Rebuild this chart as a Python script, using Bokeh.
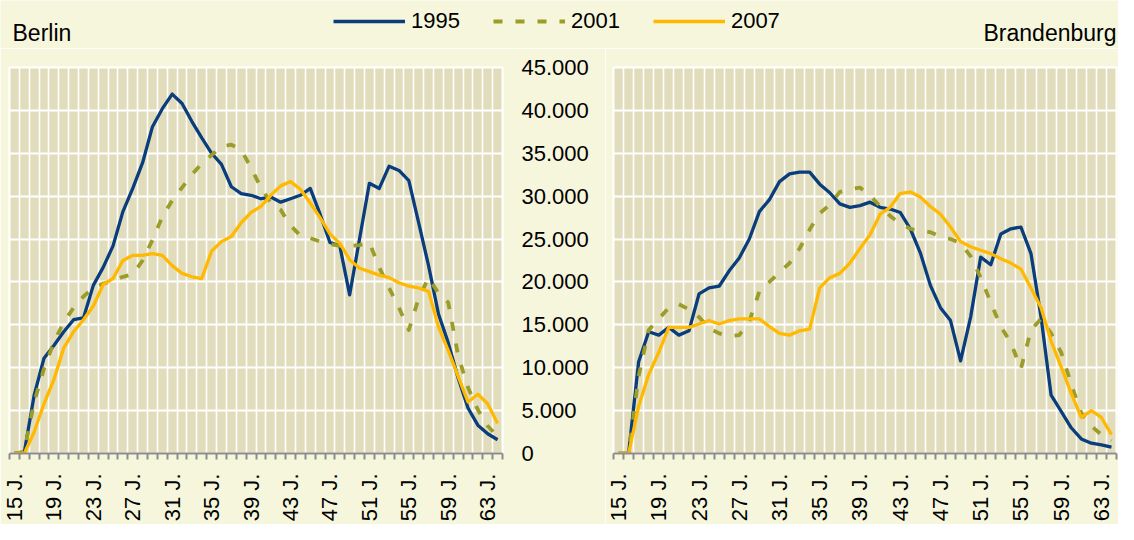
import math
from bokeh.plotting import figure
from bokeh.layouts import column, row
from bokeh.models import FixedTicker, Legend, LegendItem, Label, Range1d
from bokeh.embed import file_html
from bokeh.resources import INLINE

# ---------------- data ----------------
ages = list(range(15, 65))
tick_ages = list(range(15, 64, 4))
tick_labels = [f"{a} J." for a in tick_ages]
y_ticks = list(range(0, 45001, 5000))
y_labels = ["0", "5.000", "10.000", "15.000", "20.000", "25.000", "30.000", "35.000", "40.000", "45.000"]
years = ["1995", "2001", "2007"]
panel_titles = ["Berlin", "Brandenburg"]

berlin_1995 = [0, 150, 6800, 11100, 12600, 14200, 15600, 15800, 19600, 21700,
               24200, 28200, 30900, 33900, 38100, 40200, 41900, 40800, 38700, 36800,
               35000, 33700, 31100, 30300, 30100, 29700, 29900, 29300, 29700, 30100,
               30900, 27900, 24600, 24200, 18500, 25000, 31500, 30900, 33500, 33000,
               31800, 26900, 21900, 16300, 12900, 8800, 5300, 3300, 2300, 1600]
berlin_2001 = [0, 200, 6000, 9900, 13000, 15300, 17000, 18300, 19300, 19800,
               20100, 20600, 20900, 22500, 24900, 27600, 29500, 31000, 32500, 33800,
               34800, 35800, 36000, 35400, 33300, 31000, 29200, 28400, 26600, 25400,
               25100, 24700, 24400, 24200, 24200, 24300, 24600, 21700, 19300, 17000,
               14400, 18100, 20500, 18700, 17600, 11400, 7700, 5100, 3200, 2000]
berlin_2007 = [0, 0, 2500, 5800, 8600, 12300, 14200, 15600, 17200, 19700,
               20400, 22500, 23100, 23100, 23300, 23100, 21900, 21000, 20600, 20400,
               23600, 24700, 25300, 26900, 28100, 28800, 30100, 31200, 31700, 30800,
               29200, 27500, 25600, 24500, 22600, 21600, 21200, 20800, 20500, 19900,
               19500, 19300, 18900, 14800, 12000, 9000, 6000, 6900, 5800, 3500]
brb_1995 = [0, 0, 10700, 14200, 13800, 14700, 13800, 14300, 18600, 19300,
            19500, 21300, 22800, 25000, 28200, 29600, 31700, 32600, 32800, 32800,
            31400, 30400, 29100, 28700, 28900, 29300, 28700, 28500, 28100, 26200,
            23400, 19600, 17000, 15500, 10800, 15900, 22900, 22000, 25600, 26200,
            26400, 23300, 15900, 6800, 4900, 3000, 1700, 1200, 1000, 750]
brb_2001 = [0, 0, 9000, 14400, 15700, 17000, 17400, 16800, 15900, 14600,
            14000, 13700, 13800, 15400, 18900, 20000, 21100, 22200, 23900, 26100,
            28000, 29000, 30500, 30800, 31000, 30100, 28800, 27700, 26800, 26200,
            25900, 25800, 25300, 25000, 24500, 23000, 20500, 17600, 14800, 12900,
            9900, 14400, 15700, 14000, 11800, 8100, 4700, 3200, 2200, 1500]
brb_2007 = [0, 0, 5500, 9200, 11800, 14700, 14700, 14700, 15100, 15500,
            15100, 15500, 15700, 15700, 15700, 14800, 14000, 13800, 14300, 14500,
            19300, 20500, 21000, 22200, 23900, 25500, 27900, 28700, 30300, 30500,
            29900, 28800, 27900, 26400, 24700, 24100, 23700, 23300, 22700, 22200,
            21500, 19300, 17000, 13100, 10100, 7000, 4200, 5000, 4200, 2200]

# ---------------- styles ----------------
BG = "#f6f6dc"
PLOT_BG = "#e1dcbc"
AXIS_GREY = "#8c8c8c"
FONT = "Liberation Sans"
STYLES = {
    "1995": dict(line_color="#0a3d7c", line_width=3.3),
    "2001": dict(line_color="#9c9c28", line_width=3.8, line_dash="9 13"),
    "2007": dict(line_color="#ffb900", line_width=3.3),
}

HEAD_H = 48
PANEL_H = 476


def make_panel(width, border_left, border_right, series, show_yaxis):
    p = figure(width=width, height=PANEL_H,
               x_range=Range1d(14.5, 64.5), y_range=Range1d(0, 45000),
               output_backend="svg", toolbar_location=None,
               y_axis_location="right" if show_yaxis else None,
               min_border_left=border_left, min_border_right=border_right,
               min_border_top=19, min_border_bottom=70)
    p.background_fill_color = PLOT_BG
    p.border_fill_color = BG
    p.outline_line_color = "white"
    p.outline_line_width = 2

    boundaries = [14.5 + i for i in range(51)]
    p.xgrid.ticker = FixedTicker(ticks=boundaries)
    p.xgrid.grid_line_color = "white"
    p.xgrid.grid_line_width = 1.6
    p.ygrid.ticker = FixedTicker(ticks=y_ticks)
    p.ygrid.grid_line_color = "white"
    p.ygrid.grid_line_width = 2

    xa = p.xaxis[0]
    xa.ticker = FixedTicker(ticks=tick_ages, minor_ticks=boundaries)
    xa.major_label_overrides = dict(zip(tick_ages, tick_labels))
    xa.major_label_orientation = math.pi / 2
    xa.major_tick_out = 0
    xa.major_tick_in = 0
    xa.major_tick_line_color = None
    xa.minor_tick_out = 6
    xa.minor_tick_in = 0
    xa.minor_tick_line_color = AXIS_GREY
    xa.minor_tick_line_width = 2
    xa.axis_line_color = AXIS_GREY
    xa.axis_line_width = 2
    xa.major_label_standoff = 14
    xa.major_label_text_font = FONT
    xa.major_label_text_font_size = "22px"
    xa.major_label_text_color = "black"

    if show_yaxis:
        ya = p.yaxis[0]
        ya.ticker = FixedTicker(ticks=y_ticks)
        ya.major_label_overrides = dict(zip(y_ticks, y_labels))
        ya.axis_line_color = None
        ya.major_tick_line_color = None
        ya.major_tick_out = 0
        ya.major_tick_in = 0
        ya.minor_tick_line_color = None
        ya.major_label_standoff = 19
        ya.major_label_text_font = FONT
        ya.major_label_text_font_size = "22px"
        ya.major_label_text_color = "black"

    for yr, vals in zip(years, series):
        p.line(ages, vals, line_join="round", **STYLES[yr])
    return p


left = make_panel(605, 9, 103, [berlin_1995, berlin_2001, berlin_2007], True)
right = make_panel(513, 8, 2, [brb_1995, brb_2001, brb_2007], False)

# header with legend and panel titles
head = figure(width=1118, height=HEAD_H, x_range=Range1d(0, 1), y_range=Range1d(0, 1),
              output_backend="svg", toolbar_location=None,
              x_axis_location=None, y_axis_location=None,
              min_border=0)
head.grid.visible = False
head.outline_line_color = None
head.background_fill_color = BG
head.border_fill_color = BG

items = []
for yr in years:
    # legend-only renderer, kept outside the visible range of the header
    r = head.line([2, 3], [2, 2], **STYLES[yr])
    items.append(LegendItem(label=yr, renderers=[r]))
legend = Legend(items=items, orientation="horizontal", location=(333, HEAD_H - 34),
                glyph_width=72, glyph_height=22, label_standoff=6, spacing=33,
                padding=0, margin=0, border_line_color=None,
                background_fill_alpha=0, label_text_font=FONT,
                label_text_font_size="22px", label_text_color="black")
head.add_layout(legend)

head.add_layout(Label(x=12, y=HEAD_H - 32, x_units="screen", y_units="screen", text=panel_titles[0],
                      text_baseline="middle", text_align="left",
                      text_font=FONT, text_font_size="23px", text_color="black"))
head.add_layout(Label(x=1116, y=HEAD_H - 32, x_units="screen", y_units="screen", text=panel_titles[1],
                      text_baseline="middle", text_align="right",
                      text_font=FONT, text_font_size="23px", text_color="black"))

layout = column(head, row(left, right, spacing=0), spacing=0)

open("out.html", "w").write(file_html(layout, INLINE))
